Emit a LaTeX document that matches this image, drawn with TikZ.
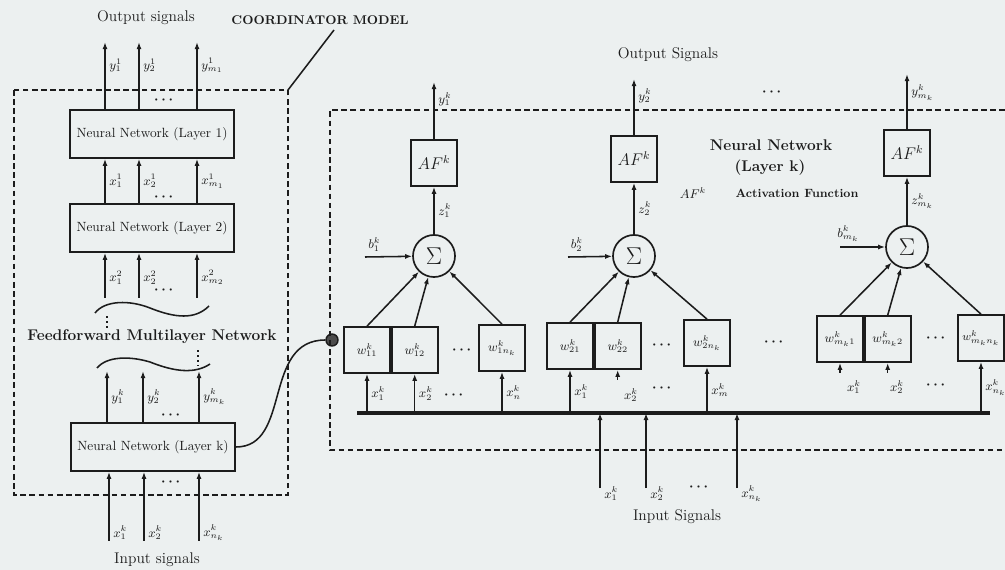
\documentclass[tikz,border=0pt]{standalone}
\usepackage{amsmath}
\usepackage{tikz}
\usetikzlibrary{arrows.meta,calc,positioning}
\definecolor{paper}{HTML}{ECF0F0}
\definecolor{ink}{HTML}{1C1C1C}

\begin{document}
\begin{tikzpicture}[x=0.025cm,y=-0.025cm,>={Latex[length=5pt,width=3.6pt]},
  line width=1.1pt,color=ink,
  nnbox/.style={draw,line width=1.2pt,minimum width=4.1cm,minimum height=1.2cm,inner sep=0pt,font=\fontsize{9.5}{11}\selectfont},
  afbox/.style={draw,line width=1.2pt,minimum width=1.15cm,minimum height=1.15cm,inner sep=0pt,font=\large},
  sumnode/.style={circle,draw,line width=1.2pt,minimum size=1.05cm,inner sep=0pt,font=\fontsize{18}{20}\selectfont},
  wbox/.style={draw,line width=1.2pt,minimum width=1.15cm,minimum height=1.15cm,inner sep=0pt,font=\small},
  frame/.style={line width=1.3pt,dash pattern=on 4pt off 2.5pt},
  lbl/.style={font=\small,inner sep=2.5pt},
  title/.style={font=\fontsize{11}{13}\selectfont}]
  \fill[paper] (0,0) rectangle (1005,570);
  \useasboundingbox (0,0) rectangle (1005,570);

  % coordinator model (left)
  \node[title] (outL) at (146,18) {Output signals};
  \node[font=\fontsize{9}{11}\selectfont\bfseries] (coord) at (320,20) {COORDINATOR MODEL};
  \coordinate (lfne) at (288,90);
  \coordinate (cm) at (334,30);
  \draw[frame] (14,90) rectangle (288,495);
  \draw (lfne) -- (cm);

  \node[nnbox] (L1) at (152,134) {Neural Network (Layer 1)};
  \node[nnbox] (L2) at (152,228) {Neural Network (Layer 2)};
  \node[nnbox] (Lk) at (153,447) {Neural Network (Layer k)};

  \foreach \dx/\lab in {-47/{y^1_1},-13/{y^1_2},45/{y^1_{m_1}}}
    \draw[->] ($(L1.north)+(\dx,0)$) -- ++(0,-67) node[lbl,right,pos=0.65] {$\lab$};
  \foreach \dx/\lab in {-47/{x^1_1},-13/{x^1_2},45/{x^1_{m_1}}}
    \draw[->] ($(L2.north)+(\dx,0)$) -- ($(L1.south)+(\dx,0)$) node[lbl,right,midway] {$\lab$};
  \foreach \dx/\lab in {-47/{x^2_1},-13/{x^2_2},45/{x^2_{m_2}}}
    \draw[->] ($(L2.south)+(\dx,45)$) -- ($(L2.south)+(\dx,0)$) node[lbl,right,pos=0.45] {$\lab$};
  \foreach \dx/\lab in {-46/{y^k_1},-10/{y^k_2},46/{y^k_{m_k}}}
    \draw[->] ($(Lk.north)+(\dx,0)$) -- ++(0,-51) node[lbl,right,pos=0.5] {$\lab$};
  \foreach \dx/\lab in {-44/{x^k_1},-9/{x^k_2},46/{x^k_{n_k}}}
    \draw[->] ($(Lk.south)+(\dx,69)$) -- ($(Lk.south)+(\dx,0)$) node[lbl,right,pos=0.12] {$\lab$};

  \node (d1) at (165,100) {$\boldsymbol{\cdots}$};
  \node (d2) at (165,197) {$\boldsymbol{\cdots}$};
  \node (d3) at (165,290) {$\boldsymbol{\cdots}$};
  \node (d4) at (172,415) {$\boldsymbol{\cdots}$};
  \node (d5) at (172,482) {$\boldsymbol{\cdots}$};

  \draw (95,313) .. controls (105,300) and (130,300) .. (150,308) .. controls (175,318) and (195,320) .. (209,306);
  \draw[dotted,line width=1.6pt] (107,316) -- (107,330);
  \node[font=\fontsize{11}{13}\selectfont\bfseries] (ffn) at (152,337) {Feedforward Multilayer Network};
  \draw[dotted,line width=1.6pt] (198,350) -- (198,366);
  \draw (97,368) .. controls (107,356) and (130,356) .. (150,362) .. controls (175,372) and (195,374) .. (210,364);
  \node[title] (inL) at (157,560) {Input signals};

  % neural network, layer k (right)
  \node[circle,draw,fill=black!70,line width=1pt,minimum size=0.3cm,inner sep=0pt] (dot) at (332,340) {};
  \draw (Lk.east) .. controls (292,447) and (262,340) .. (dot.west);
  \draw[frame] (1005,110) -- (330,110) -- (330,450) -- (1005,450);

  \node[title] (outR) at (668,55) {Output Signals};
  \node (d6) at (773,92) {$\boldsymbol{\cdots}$};
  \node[font=\fontsize{11}{13}\selectfont\bfseries] (nnk) at (771,145) {Neural Network};
  \node[font=\fontsize{11}{13}\selectfont\bfseries] (lay) at (770,168) {(Layer k)};
  \node[font=\small] (afk) at (693,193) {$AF^k$};
  \node[font=\fontsize{8.5}{10}\selectfont\bfseries] (act) at (797,193) {Activation Function};

  \node[sumnode] (S1) at (434,256) {$\Sigma$};
  \node[sumnode] (S2) at (634,256) {$\Sigma$};
  \node[sumnode] (S3) at (907,247) {$\Sigma$};
  \node[afbox] (A1) at (434,163) {$AF^k$};
  \node[afbox] (A2) at (634,159) {$AF^k$};
  \node[afbox] (A3) at (907,153) {$AF^k$};

  \draw[->] (S1) -- (A1) node[lbl,right,midway] {$z^k_1$};
  \draw[->] (S2) -- (A2) node[lbl,right,midway] {$z^k_2$};
  \draw[->] (S3) -- (A3) node[lbl,right,midway] {$z^k_{m_k}$};
  \draw[->] (A1.north) -- ++(0,-57) node[lbl,right,pos=0.7] {$y^k_1$};
  \draw[->] (A2.north) -- ++(0,-56) node[lbl,right,pos=0.7] {$y^k_2$};
  \draw[->] (A3.north) -- ++(0,-55) node[lbl,right,pos=0.67] {$y^k_{m_k}$};

  \coordinate (b1) at (365,257);
  \coordinate (b2) at (568,257);
  \coordinate (b3) at (840,247);
  \draw[->] (b1) -- (S1) node[lbl,above=1pt,pos=0.2] {$b^k_1$};
  \draw[->] (b2) -- (S2) node[lbl,above=1pt,pos=0.2] {$b^k_2$};
  \draw[->] (b3) -- (S3) node[lbl,above=1pt,pos=0.18] {$b^k_{m_k}$};

  \node[wbox] (W11) at (367,350) {$w^k_{11}$};
  \node[wbox,right=0pt of W11] (W12) {$w^k_{12}$};
  \node[wbox] (W1n) at (502,348) {$w^k_{1n_k}$};
  \node[wbox] (W21) at (570,346) {$w^k_{21}$};
  \node[wbox,right=0pt of W21] (W22) {$w^k_{22}$};
  \node[wbox] (W2n) at (707,343) {$w^k_{2n_k}$};
  \node[wbox] (W31) at (840,339) {$w^k_{m_k1}$};
  \node[wbox,right=0pt of W31] (W32) {$w^k_{m_k2}$};
  \node[wbox,font=\footnotesize] (W3n) at (981,338) {$w^k_{m_kn_k}$};

  \node (d7) at (463,350) {$\boldsymbol{\cdots}$};
  \node (d8) at (663,345) {$\boldsymbol{\cdots}$};
  \node (d9) at (775,342) {$\boldsymbol{\cdots}$};
  \node (d10) at (937,338) {$\boldsymbol{\cdots}$};

  \draw[->] (W11.north) -- (S1);
  \draw[->] (W12.north) -- (S1);
  \draw[->] (W1n.north) -- (S1);
  \draw[->] (W21.north) -- (S2);
  \draw[->] (W22.north) -- (S2);
  \draw[->] (W2n.north) -- (S2);
  \draw[->] (W31.north) -- (S3);
  \draw[->] (W32.north) -- (S3);
  \draw[->] (W3n.north) -- (S3);

  \coordinate (busL) at (357,413);
  \coordinate (busR) at (990,413);
  \draw[line width=2.6pt] (busL) -- (busR);
  \draw[->] (W11.south |- busL) -- (W11.south) node[lbl,right,midway] {$x^k_1$};
  \draw[->] (W12.south |- busL) -- (W12.south) node[lbl,right,midway] {$x^k_2$};
  \node (d11) at (455,395) {$\boldsymbol{\cdots}$};
  \draw[->] (W1n.south |- busL) -- (W1n.south) node[lbl,right,midway] {$x^k_n$};
  \draw[->] (W21.south |- busL) -- (W21.south) node[lbl,right,midway] {$x^k_1$};
  \draw[->] ($(W22.south)+(0,10)$) -- (W22.south);
  \node[lbl] (x22) at (631,395) {$x^k_2$};
  \node (d12) at (663,388) {$\boldsymbol{\cdots}$};
  \draw[->] (W2n.south |- busL) -- (W2n.south) node[lbl,right,midway] {$x^k_m$};
  \draw[->] ($(W31.south)+(0,10)$) -- (W31.south);
  \draw[->] ($(W32.south)+(0,10)$) -- (W32.south);
  \node[lbl] (x31) at (854,387) {$x^k_1$};
  \node[lbl] (x32) at (897,387) {$x^k_2$};
  \node (d13) at (937,385) {$\boldsymbol{\cdots}$};
  \draw[->] (W3n.south |- busL) -- (W3n.south) node[lbl,right,midway] {$x^k_{n_k}$};

  \coordinate (in1) at (600,488);
  \coordinate (in2) at (646,488);
  \coordinate (in3) at (737,488);
  \draw[->] (in1) node[lbl,right,yshift=-4pt] {$x^k_1$} -- (in1 |- busL);
  \draw[->] (in2) node[lbl,right,yshift=-4pt] {$x^k_2$} -- (in2 |- busL);
  \draw[->] (in3) node[lbl,right,yshift=-4pt] {$x^k_{n_k}$} -- (in3 |- busL);
  \node (d14) at (700,487) {$\boldsymbol{\cdots}$};
  \node[title] (inR) at (677,517) {Input Signals};
\end{tikzpicture}
\end{document}
